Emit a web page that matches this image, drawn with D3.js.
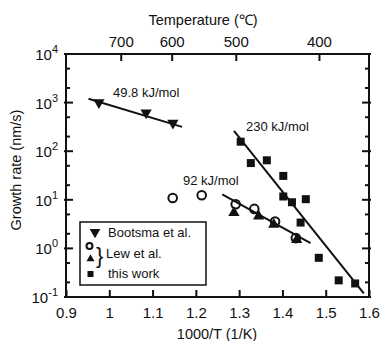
<!DOCTYPE html>
<html>
<head>
<meta charset="utf-8">
<script src="https://cdn.jsdelivr.net/npm/d3@7/dist/d3.min.js"></script>
<style>
  body { margin: 0; background: #fff; }
  text { font-family: "Liberation Sans", Arial, sans-serif; fill: #111; }
</style>
</head>
<body>
<div id="chart"></div>
<script>
// data: x = 1000/T (1/K), y = growth rate (nm/s)
const bootsma = [[0.976, 1000], [1.085, 616], [1.147, 380]];
const lewCircles = [[1.1465, 10.9], [1.2135, 12.4], [1.292, 8.1], [1.335, 6.5], [1.383, 3.56], [1.431, 1.63]];
const lewTriangles = [[1.288, 5.4], [1.345, 4.6], [1.380, 3.1], [1.433, 1.51]];
const thisWork = [[1.3036, 157], [1.327, 57], [1.364, 65], [1.402, 31], [1.402, 11.7], [1.422, 8.9],
  [1.454, 10.3], [1.442, 3.4], [1.484, 0.64], [1.530, 0.22], [1.568, 0.19]];
const fitBootsma = [[0.952, 1200], [1.168, 316]];
const fit230 = [[1.288, 261], [1.588, 0.119]];
const fit92 = [[1.261, 12.9], [1.465, 1.29]];
const xTicks = [0.9, 1, 1.1, 1.2, 1.3, 1.4, 1.5, 1.6];
const yExps = [-1, 0, 1, 2, 3, 4];
const tempTicks = [700, 600, 500, 400];
const legendItems = ["Bootsma et al.", "Lew et al.", "this work"];

const width = 380, height = 341;
const margins = {left: 66, right: 11, top: 54, bottom: 44};
const w = width - margins.left - margins.right;
const h = height - margins.top - margins.bottom;

const svg = d3.select("#chart").append("svg")
  .attr("width", width).attr("height", height);
const g = svg.append("g")
  .attr("transform", "translate(" + margins.left + "," + margins.top + ")");

const x = d3.scaleLinear().domain([0.9, 1.6]).range([0, w]);
const y = d3.scaleLog().domain([0.1, 1e4]).range([h, 0]);

// frame
g.append("rect").attr("width", w).attr("height", h)
  .attr("fill", "none").attr("stroke", "#111").attr("stroke-width", 2);

// bottom ticks (inward)
const bx = g.append("g").attr("transform", "translate(0," + h + ")")
  .call(d3.axisBottom(x).tickValues(xTicks).tickSizeInner(-7).tickSizeOuter(0)
    .tickFormat(d => d3.format("")(d)).tickPadding(10));
bx.select(".domain").remove();
bx.selectAll("line").attr("stroke", "#111").attr("stroke-width", 2);
bx.selectAll("text").attr("font-size", 15).attr("fill", "#111");

// top temperature ticks
const tempX = t => x(1000 / (t + 273.15));
g.selectAll(".ttick").data(tempTicks).enter().append("line")
  .attr("x1", tempX).attr("x2", tempX).attr("y1", 0).attr("y2", 7)
  .attr("stroke", "#111").attr("stroke-width", 2);
g.selectAll(".tlab").data(tempTicks).enter().append("text")
  .attr("x", tempX).attr("y", -7).attr("text-anchor", "middle")
  .attr("font-size", 15).text(d => d);

// y ticks on both sides
const minor = [];
yExps.slice(0, -1).forEach(e => { minor.push(2 * Math.pow(10, e), 5 * Math.pow(10, e)); });
[0, w].forEach(function(side) {
  const dir = side === 0 ? 1 : -1;
  g.selectAll(null).data(yExps).enter().append("line")
    .attr("x1", side - dir * 2).attr("x2", side + dir * 7)
    .attr("y1", d => y(Math.pow(10, d))).attr("y2", d => y(Math.pow(10, d)))
    .attr("stroke", "#111").attr("stroke-width", 2);
  g.selectAll(null).data(minor).enter().append("line")
    .attr("x1", side).attr("x2", side + dir * 4)
    .attr("y1", d => y(d)).attr("y2", d => y(d))
    .attr("stroke", "#111").attr("stroke-width", 2);
});
const ylab = g.selectAll(".ylab").data(yExps).enter().append("text")
  .attr("x", -8).attr("y", d => y(Math.pow(10, d)) + 6)
  .attr("text-anchor", "end").attr("font-size", 15);
ylab.append("tspan").text("10");
ylab.append("tspan").attr("dy", -7).attr("font-size", 11).text(d => d);

// axis titles
svg.append("text").attr("x", 203).attr("y", 25).attr("text-anchor", "middle")
  .attr("font-size", 14.5).text("Temperature (℃)");
svg.append("text").attr("x", 217).attr("y", 339).attr("text-anchor", "middle")
  .attr("font-size", 14.5).text("1000/T (1/K)");
svg.append("text").attr("transform", "translate(21,170) rotate(-90)")
  .attr("text-anchor", "middle").attr("font-size", 14.5).text("Growth rate (nm/s)");

// fit lines
const line = d3.line().x(d => x(d[0])).y(d => y(d[1]));
[fitBootsma, fit230, fit92].forEach(function(f) {
  g.append("path").attr("d", line(f)).attr("fill", "none")
    .attr("stroke", "#111").attr("stroke-width", 2);
});

// markers
const triDown = d3.symbol().type(d3.symbolTriangle).size(55);
g.selectAll(".boot").data(bootsma).enter().append("path")
  .attr("d", triDown)
  .attr("transform", d => "translate(" + x(d[0]) + "," + y(d[1]) + ") rotate(180)")
  .attr("fill", "#111");
g.selectAll(".lewt").data(lewTriangles).enter().append("path")
  .attr("d", d3.symbol().type(d3.symbolTriangle).size(55))
  .attr("transform", d => "translate(" + x(d[0]) + "," + y(d[1]) + ")")
  .attr("fill", "#111");
g.selectAll(".lewc").data(lewCircles).enter().append("circle")
  .attr("cx", d => x(d[0])).attr("cy", d => y(d[1])).attr("r", 4.3)
  .attr("fill", "none").attr("stroke", "#111").attr("stroke-width", 2);
g.selectAll(".work").data(thisWork).enter().append("rect")
  .attr("x", d => x(d[0]) - 4).attr("y", d => y(d[1]) - 4)
  .attr("width", 8).attr("height", 8).attr("fill", "#111");

// fit labels
g.append("text").attr("x", 47).attr("y", 43).attr("font-size", 13).text("49.8 kJ/mol");
g.append("text").attr("x", 180).attr("y", 77).attr("font-size", 13).text("230 kJ/mol");
g.append("text").attr("x", 117).attr("y", 131).attr("font-size", 13).text("92 kJ/mol");

// legend
const lg = svg.append("g").attr("transform", "translate(80,222)");
lg.append("rect").attr("width", 126).attr("height", 63)
  .attr("fill", "#fff").attr("stroke", "#111").attr("stroke-width", 1.5);
lg.append("path").attr("d", d3.symbol().type(d3.symbolTriangle).size(50))
  .attr("transform", "translate(15,10) rotate(180)").attr("fill", "#111");
lg.append("circle").attr("cx", 9.5).attr("cy", 24).attr("r", 3)
  .attr("fill", "#fff").attr("stroke", "#111").attr("stroke-width", 2);
lg.append("path").attr("d", d3.symbol().type(d3.symbolTriangle).size(28))
  .attr("transform", "translate(10.5,37)").attr("fill", "#111");
lg.append("text").attr("x", 16).attr("y", 41).attr("font-size", 22).attr("font-weight", 300).text("}");
lg.append("rect").attr("x", 7.5).attr("y", 49).attr("width", 6).attr("height", 6).attr("fill", "#111");
lg.selectAll(".ltxt").data(legendItems).enter().append("text")
  .attr("x", (d, i) => i === 1 ? 26 : 28).attr("y", (d, i) => [15, 36, 56][i])
  .attr("font-size", 13).text(d => d);
</script>
</body>
</html>
